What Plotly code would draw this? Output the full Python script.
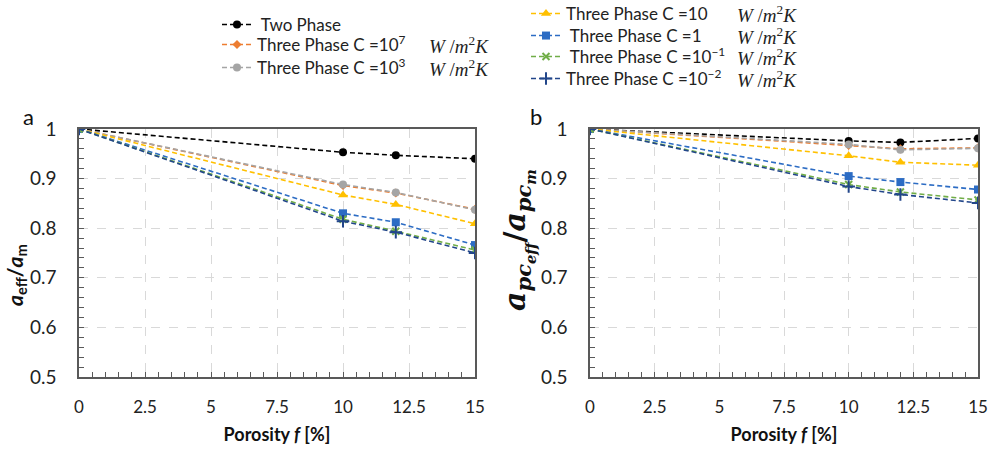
import plotly.graph_objects as go

porosity = [0, 10, 12, 15]

# panel a : a_eff / a_m
a_two   = [1, 0.953, 0.947, 0.940]
a_c1e7  = [1, 0.886, 0.871, 0.838]
a_c1e3  = [1, 0.888, 0.872, 0.837]
a_c10   = [1, 0.867, 0.848, 0.809]
a_c1    = [1, 0.830, 0.812, 0.766]
a_c01   = [1, 0.818, 0.794, 0.756]
a_c001  = [1, 0.814, 0.792, 0.750]

# panel b : a_pc_eff / a_pc_m
b_two   = [1, 0.976, 0.973, 0.981]
b_c1e7  = [1, 0.967, 0.960, 0.962]
b_c1e3  = [1, 0.969, 0.958, 0.961]
b_c10   = [1, 0.946, 0.933, 0.927]
b_c1    = [1, 0.905, 0.893, 0.878]
b_c01   = [1, 0.888, 0.873, 0.857]
b_c001  = [1, 0.884, 0.868, 0.851]

x_ticks = [0, 2.5, 5, 7.5, 10, 12.5, 15]
y_ticks = [0.5, 0.6, 0.7, 0.8, 0.9, 1]

names = [
    "\u00a0Two Phase",
    "Three Phase C =10<sup>7</sup>",
    "Three Phase C =10<sup>3</sup>",
    "Three Phase C =10",
    "\u00a0Three Phase C =1",
    "\u00a0Three Phase C =10<sup>\u22121</sup>",
    "Three Phase C =10<sup>\u22122</sup>",
]
has_unit = [False, True, True, True, True, True, True]
UNIT = "<i>W</i> /<i>m</i><sup>2</sup><i>K</i>"

colors = ["#000000", "#ED7D31", "#A5A5A5", "#FFC000", "#2C6CC4", "#70AD47", "#22468A"]
symbols = ["circle", "diamond", "circle", "triangle-up", "square", "x-thin", "cross-thin"]
sizes = [8, 7, 8, 9, 8, 7, 9]

# legend row placement (pixels): x of legend box, y centre of row, x of unit text
leg_x = [217, 217, 217, 526, 526, 526, 526]
leg_y = [25, 45, 68, 14, 36, 57, 79]
unit_x = [0, 427, 427, 735, 735, 735, 735]

a_series = [a_two, a_c1e7, a_c1e3, a_c10, a_c1, a_c01, a_c001]
b_series = [b_two, b_c1e7, b_c1e3, b_c10, b_c1, b_c01, b_c001]

W, H = 989, 449
fig = go.Figure()
leg_keys = ["legend"] + ["legend%d" % (i + 1) for i in range(1, 7)]
for i in range(7):
    mk = dict(color=colors[i], symbol=symbols[i], size=sizes[i],
              line=dict(color=colors[i], width=2 if "thin" in symbols[i] else 0))
    fig.add_trace(go.Scatter(x=porosity, y=a_series[i], mode="lines+markers", name=names[i],
                             line=dict(color=colors[i], width=1.6, dash="5px,3px"),
                             marker=mk, legend=leg_keys[i], xaxis="x", yaxis="y"))
for i in range(7):
    mk = dict(color=colors[i], symbol=symbols[i], size=sizes[i],
              line=dict(color=colors[i], width=2 if "thin" in symbols[i] else 0))
    fig.add_trace(go.Scatter(x=porosity, y=b_series[i], mode="lines+markers", name=names[i],
                             line=dict(color=colors[i], width=1.6, dash="5px,3px"),
                             marker=mk, showlegend=False, xaxis="x2", yaxis="y2"))

common_x = dict(range=[0, 15], tickvals=x_ticks, showgrid=True, gridcolor="#D9D9D9", griddash="dash",
                gridwidth=1, showline=True, linecolor="#595959", linewidth=1.5, mirror=True,
                ticks="inside", ticklen=5, tickcolor="#595959", zeroline=False, automargin=False,
                minor=dict(dtick=0.5, ticks="inside", ticklen=5, tickcolor="#595959", showgrid=False),
                tickfont=dict(size=17, color="#222"), ticklabelstandoff=14,
                title=dict(text="<b>Porosity <i>f</i> [%]</b>", font=dict(size=18, color="#111"), standoff=12))
common_y = dict(range=[0.5, 1], tickvals=y_ticks, showgrid=True, gridcolor="#D9D9D9", griddash="dash",
                gridwidth=1, showline=True, linecolor="#595959", linewidth=1.5, mirror=True,
                ticks="inside", ticklen=5, tickcolor="#595959", zeroline=False, automargin=False,
                minor=dict(dtick=0.02, ticks="inside", ticklen=5, tickcolor="#595959", showgrid=False),
                tickfont=dict(size=19, color="#222"), ticklabelstandoff=17)

y0, y1 = (H - 377) / H, (H - 129) / H
layout = dict(
    width=W, height=H, margin=dict(l=0, r=0, t=0, b=0, autoexpand=False),
    paper_bgcolor="white", plot_bgcolor="white",
    font=dict(family="Lato, Open Sans, sans-serif", color="#222"),
    xaxis=dict(domain=[79 / W, 475 / W], anchor="y", **common_x),
    yaxis=dict(domain=[y0, y1], anchor="x", **common_y),
    xaxis2=dict(domain=[590 / W, 978 / W], anchor="y2", **common_x),
    yaxis2=dict(domain=[y0, y1], anchor="x2", **common_y),
)
for i in range(7):
    layout[leg_keys[i]] = dict(x=leg_x[i] / W, y=1 - leg_y[i] / H, xanchor="left", yanchor="middle",
                               bgcolor="rgba(0,0,0,0)", font=dict(size=17, color="#222"),
                               itemwidth=30)

annotations = [
    dict(text="a", x=28 / W, y=1 - 116 / H, xanchor="center", yanchor="middle",
         font=dict(size=22, color="#111")),
    dict(text="b", x=536 / W, y=1 - 116 / H, xanchor="center", yanchor="middle",
         font=dict(size=22, color="#111")),
    dict(text="<b><i>a</i></b><sub><b>eff</b></sub><b>/</b><b><i>a</i></b><sub><b>m</b></sub>",
         x=16 / W, y=1 - 275 / H, xanchor="center", yanchor="middle", textangle=-90,
         font=dict(size=21, color="#111")),
    dict(text="<b><i>a<sub>pc<sub>eff</sub></sub></i>/<i>a<sub>pc<sub>m</sub></sub></i></b>",
         x=518 / W, y=1 - 240 / H, xanchor="center", yanchor="middle", textangle=-90,
         font=dict(size=30, color="#111", family="DejaVu Serif")),
]
for i in range(7):
    if has_unit[i]:
        annotations.append(dict(text=UNIT, x=unit_x[i] / W, y=1 - leg_y[i] / H,
                                xanchor="left", yanchor="middle",
                                font=dict(size=19, color="#222", family="Liberation Serif")))
for a in annotations:
    a.update(xref="paper", yref="paper", showarrow=False)
layout["annotations"] = annotations

fig.update_layout(**layout)
fig.write_html("out.html")
